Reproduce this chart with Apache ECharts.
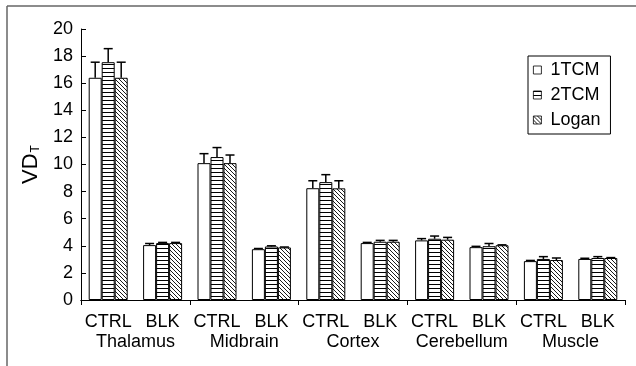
<!DOCTYPE html>
<html>
<head>
<meta charset="utf-8">
<script src="https://cdn.jsdelivr.net/npm/echarts@6/dist/echarts.min.js"></script>
<style>html,body{margin:0;padding:0;background:#fff;}#c{width:636px;height:366px;}</style>
</head>
<body>
<div id="c"></div>
<script>
// ---- data ----
const conditions = ['CTRL','BLK','CTRL','BLK','CTRL','BLK','CTRL','BLK','CTRL','BLK'];
const regions = ['Thalamus','Midbrain','Cortex','Cerebellum','Muscle'];
const seriesNames = ['1TCM','2TCM','Logan'];
const tcm1    = [16.4, 4.05, 10.1, 3.75, 8.25, 4.2, 4.4, 3.9, 2.87, 3.03];
const tcm1Err = [1.15, 0.12, 0.7, 0.05, 0.55, 0.05, 0.13, 0.06, 0.05, 0.05];
const tcm2    = [17.55, 4.2, 10.55, 3.95, 8.7, 4.3, 4.52, 3.97, 3.03, 3.1];
const tcm2Err = [1.0, 0.05, 0.7, 0.05, 0.55, 0.1, 0.2, 0.2, 0.17, 0.1];
const logan    = [16.4, 4.2, 10.1, 3.88, 8.24, 4.3, 4.45, 4.04, 2.95, 3.1];
const loganErr = [1.15, 0.05, 0.6, 0.03, 0.56, 0.1, 0.17, 0.03, 0.15, 0.03];
const yTicks = {min: 0, max: 20, interval: 2};

// ---- patterns ----
function hPattern() {
  const c = document.createElement('canvas'); c.width = 4; c.height = 4;
  const g = c.getContext('2d');
  g.fillStyle = '#fff'; g.fillRect(0,0,4,4);
  g.fillStyle = '#000'; g.fillRect(0,0,4,1);
  return c;
}
function dPattern() {
  const s = 4;
  const c = document.createElement('canvas'); c.width = s; c.height = s;
  const g = c.getContext('2d');
  g.fillStyle = '#fff'; g.fillRect(0,0,s,s);
  g.strokeStyle = '#000'; g.lineWidth = 0.9;
  g.beginPath();
  for (const k of [-s, 0, s]) { g.moveTo(k, 0); g.lineTo(k + s, s); }
  g.stroke();
  return c;
}
const fills = ['#ffffff', {image: hPattern(), repeat: 'repeat'}, {image: dPattern(), repeat: 'repeat'}];
const vals = [tcm1, tcm2, logan];
const errs = [tcm1Err, tcm2Err, loganErr];
const BAR_W = 13;
const FONT = 'Liberation Sans, Arial, sans-serif';
const FS = 18;

const series = [];
vals.forEach((v, si) => {
  series.push({
    type: 'bar', name: seriesNames[si], data: v,
    barWidth: BAR_W, barGap: '0%',
    itemStyle: {color: fills[si], borderColor: '#000', borderWidth: 1},
    z: 2
  });
});
vals.forEach((v, si) => {
  series.push({
    type: 'custom', name: 'err' + si,
    data: v.map((x, i) => [i, x, errs[si][i]]),
    encode: {x: 0, y: 1},
    z: 10,
    renderItem: function (params, api) {
      const i = api.value(0), y = api.value(1), e = api.value(2);
      const p0 = api.coord([i, y]);
      const p1 = api.coord([i, y + e]);
      const x = p0[0] + (si - 1) * BAR_W;
      const st = {stroke: '#000', lineWidth: 1.5};
      return {type: 'group', children: [
        {type: 'line', shape: {x1: x, y1: p0[1], x2: x, y2: p1[1]}, style: st},
        {type: 'line', shape: {x1: x - 4.5, y1: p1[1], x2: x + 4.5, y2: p1[1]}, style: st}
      ]};
    }
  });
});

const chart = echarts.init(document.getElementById('c'), null, {renderer: 'canvas'});
chart.setOption({
  animation: false,
  backgroundColor: '#fff',
  textStyle: {fontFamily: FONT},
  grid: {left: 81, right: 11, top: 29, bottom: 66},
  legend: {
    data: seriesNames, orient: 'vertical', left: 528, top: 56,
    itemWidth: 8, itemHeight: 8, itemGap: 7, icon: 'rect',
    itemStyle: {borderWidth: 0.8},
    borderColor: '#000', borderWidth: 1, padding: [5, 10, 5, 5],
    textStyle: {fontSize: FS, color: '#000', fontFamily: FONT, lineHeight: 18, padding: [0,0,0,4]}
  },
  xAxis: [{
    type: 'category', data: conditions, position: 'bottom',
    axisLine: {show: true, lineStyle: {color: '#000', width: 1}},
    axisTick: {show: false},
    axisLabel: {fontSize: FS, color: '#000', margin: 13, interval: 0, fontFamily: FONT}
  }, {
    type: 'category', data: regions, position: 'bottom',
    axisLine: {show: true, lineStyle: {color: '#000', width: 1}},
    axisTick: {show: true, length: 5, lineStyle: {color: '#000'}},
    axisLabel: {fontSize: FS, color: '#000', margin: 33, interval: 0, fontFamily: FONT}
  }],
  yAxis: {
    type: 'value', min: yTicks.min, max: yTicks.max, interval: yTicks.interval,
    name: '{a|VD}{b|T}', nameLocation: 'middle', nameRotate: 90, nameGap: 37,
    nameTextStyle: {
      rich: {
        a: {fontSize: 22, color: '#000', fontFamily: FONT},
        b: {fontSize: 12, color: '#000', fontFamily: FONT, padding: [10, 0, 0, 1]}
      }
    },
    axisLine: {show: true, lineStyle: {color: '#000', width: 1}},
    axisTick: {show: true, inside: true, length: 5, lineStyle: {color: '#000'}},
    splitLine: {show: false},
    axisLabel: {fontSize: FS, color: '#000', margin: 8, fontFamily: FONT}
  },
  graphic: [
    {type: 'line', shape: {x1: 7, y1: 6, x2: 636, y2: 6}, style: {stroke: '#666', lineWidth: 1.5}, silent: true},
    {type: 'line', shape: {x1: 7, y1: 6, x2: 7, y2: 366}, style: {stroke: '#666', lineWidth: 1.5}, silent: true}
  ],
  series: series
});
</script>
</body>
</html>
